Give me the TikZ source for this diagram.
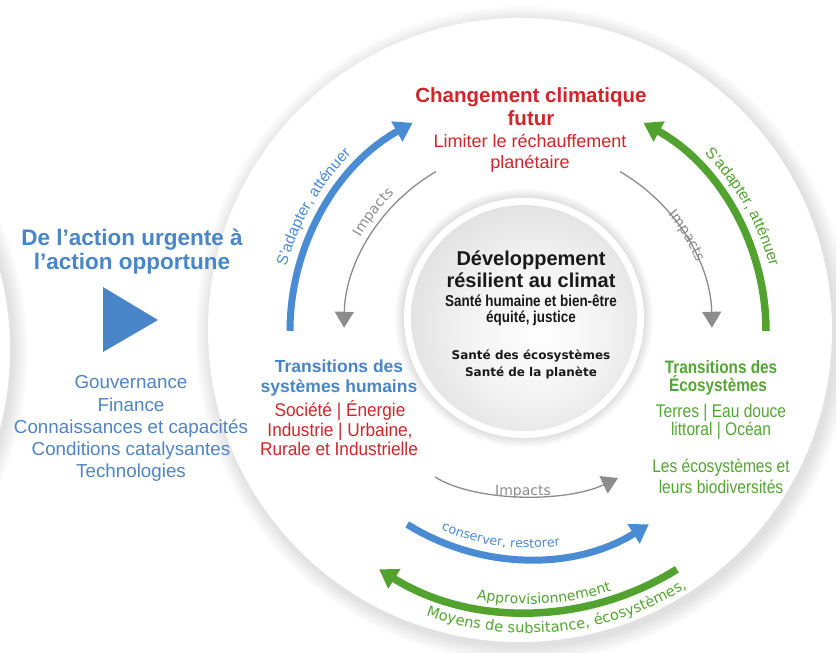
\documentclass[tikz,border=0pt]{standalone}
\usepackage{fontspec}
\setmainfont{Liberation Sans}
\newfontfamily\dejavu{DejaVu Sans}
\newfontfamily\narrowA[FakeStretch=0.93]{Liberation Sans}
\newfontfamily\narrowB[FakeStretch=0.85]{Liberation Sans}
\usetikzlibrary{arrows.meta,decorations.text}
\definecolor{cred}{RGB}{208,38,42}
\definecolor{cblue}{RGB}{72,134,201}
\definecolor{cbluel}{RGB}{80,132,196}
\definecolor{carcblue}{RGB}{74,140,212}
\definecolor{cgreen}{RGB}{84,166,52}
\definecolor{carcgreen}{RGB}{82,162,48}
\definecolor{cgray}{RGB}{140,140,140}
\definecolor{cdark}{RGB}{25,25,25}
\definecolor{diskedge}{RGB}{226,226,226}
\pgfdeclareradialshading{bigdisc}{\pgfpoint{0bp}{0bp}}{color(0bp)=(white); color(36bp)=(white); color(47bp)=(diskedge); color(50bp)=(diskedge)}
\pgfdeclareradialshading{innerdisc}{\pgfpoint{4bp}{-4bp}}{color(0bp)=(white); color(16bp)=(white!95!black); color(40bp)=(white!82!black); color(50bp)=(white!74!black)}
\begin{document}
\begin{tikzpicture}[x=1pt,y=-1pt,
  every node/.style={inner sep=0pt, anchor=base},
  ttl/.style={font=\bfseries\fontsize{20.5}{23}\selectfont, text=cred},
  subttl/.style={font=\fontsize{18}{21}\selectfont, text=cred},
  lefttitle/.style={font=\bfseries\fontsize{22.5}{25}\selectfont, text=cblue},
  leftlist/.style={font=\fontsize{18.8}{22}\selectfont, text=cbluel},
  humhead/.style={font=\bfseries\fontsize{17.5}{20}\selectfont, text=cblue},
  humtxt/.style={font=\narrowA\fontsize{18.5}{20}\selectfont, text=cred},
  ecohead/.style={font=\narrowB\bfseries\fontsize{18}{20}\selectfont, text=cgreen},
  ecotxt/.style={font=\narrowB\fontsize{18.3}{20}\selectfont, text=cgreen},
  cenhead/.style={font=\bfseries\fontsize{20}{22}\selectfont, text=cdark},
  censub/.style={font=\narrowB\bfseries\fontsize{15.8}{18}\selectfont, text=cdark},
  cenwide/.style={font=\dejavu\bfseries\fontsize{12}{14}\selectfont, text=cdark},
  thickblue/.style={draw=carcblue, line width=7pt, -{Triangle[length=18pt,width=22pt]}},
  thickgreen/.style={draw=carcgreen, line width=7.5pt, -{Triangle[length=18pt,width=22pt]}},
  thingray/.style={draw=cgray, line width=1.3pt, -{Triangle[length=16pt,width=19pt]}},
]
\useasboundingbox (0,0) rectangle (836,653);
\fill[white] (0,0) rectangle (836,653);

% left partial disc
\foreach \i in {1,...,10} \fill[black,opacity=0.012] (-298,352) circle ({310+1.6*\i});
\shade[shading=bigdisc] (-300,350) circle (310);

% big disc
\coordinate (D) at (520,330);
\foreach \i in {1,...,10} \fill[black,opacity=0.013] (523,334) circle ({312+1.6*\i});
\shade[shading=bigdisc] (D) circle (312);

% inner disc
\coordinate (I) at (524,318);
\foreach \i in {1,...,6} \fill[black,opacity=0.02] (I) circle ({120+1.5*\i});
\fill[white] (I) circle (120);
\shade[shading=innerdisc] (I) circle (113);

% centre of arcs
\coordinate (C) at (528,331);

% thick arcs
\draw[thickblue] ([shift={(C)}]180:238) arc[start angle=180, end angle=241, radius=238];
\draw[thickgreen] ([shift={(C)}]0:238) arc[start angle=0, end angle=-61, radius=238];
\draw[thickblue] ([shift={(C)}]122:228) arc[start angle=122, end angle=58, radius=228];
\draw[thickgreen] ([shift={(C)}]58:281) arc[start angle=58, end angle=122, radius=281];

% gray impact arcs
\draw[thingray] ([shift={(C)}]240:184) arc[start angle=240, end angle=181, radius=184];
\draw[thingray] ([shift={(C)}]-60:184) arc[start angle=-60, end angle=-1, radius=184];
\coordinate (g1) at (435,477);
\coordinate (g2) at (618,478);
\draw[thingray] (g1) .. controls (475,502) and (565,503) .. (g2);

% arc labels
\path[decorate, decoration={text along path, text align=center, text color=carcblue,
  text={|\fontsize{15.5}{16}\selectfont|S’adapter, atténuer}}]
  ([shift={(C)}]190:250) arc[start angle=190, end angle=230, radius=250];
\path[decorate, decoration={text along path, text align=center, text color=carcgreen,
  text={|\fontsize{15.5}{16}\selectfont|S’adapter, atténuer}}]
  ([shift={(C)}]-50:250) arc[start angle=-50, end angle=-10, radius=250];
\path[decorate, decoration={text along path, text align=center, text color=cgray,
  text={|\dejavu\fontsize{14}{16}\selectfont|Impacts}}]
  ([shift={(C)}]200:192) arc[start angle=200, end angle=235, radius=192];
\path[decorate, decoration={text along path, text align=center, text color=cgray,
  text={|\dejavu\fontsize{14}{16}\selectfont|Impacts}}]
  ([shift={(C)}]-48:182) arc[start angle=-48, end angle=-14, radius=182];
\node[font=\dejavu\fontsize{14}{16}\selectfont, text=cgray] (imp3) at (523,495) {Impacts};
\path[decorate, decoration={text along path, text align=center, text color=carcblue,
  text={|\dejavu\fontsize{12.7}{14}\selectfont|conserver, restorer}}]
  ([shift={(C)}]120:217) arc[start angle=120, end angle=75, radius=217];
\path[decorate, decoration={text along path, text align=center, text color=carcgreen,
  text={|\dejavu\fontsize{14}{16}\selectfont|Approvisionnement}}]
  ([shift={(C)}]110:273) arc[start angle=110, end angle=63, radius=273];
\path[decorate, decoration={text along path, text align=center, text color=cgreen,
  text={|\dejavu\fontsize{14.6}{16}\selectfont|Moyens de subsitance, écosystèmes,}}]
  ([shift={(C)}]118:302) arc[start angle=118, end angle=50, radius=302];

% title
\node[ttl] (t1) at (531,102) {Changement climatique};
\node[ttl] (t2) at (531,125) {futur};
\node[subttl] (t3) at (530,147) {Limiter le réchauffement};
\node[subttl] (t4) at (530,168) {planétaire};

% left block
\node[lefttitle] (l1) at (132,245) {De l’action urgente à};
\node[lefttitle] (l2) at (132,269) {l’action opportune};
\fill[cblue] (103,287) -- (103,352) -- (158,320) -- cycle;
\node[leftlist] (g1t) at (131,388) {Gouvernance};
\node[leftlist] (g2t) at (131,411) {Finance};
\node[leftlist] (g3t) at (131,433) {Connaissances et capacités};
\node[leftlist] (g4t) at (131,455) {Conditions catalysantes};
\node[leftlist] (g5t) at (131,477) {Technologies};

% human systems
\node[humhead] (h1) at (339,372) {Transitions des};
\node[humhead] (h2) at (339,392) {systèmes humains};
\node[humtxt] (h3) at (340,416) {Société | Énergie};
\node[humtxt] (h4) at (340,436) {Industrie | Urbaine,};
\node[humtxt] (h5) at (339,455) {Rurale et Industrielle};

% ecosystems
\node[ecohead] (e1) at (721,373) {Transitions des};
\node[ecohead] (e2) at (718,391) {Écosystèmes};
\node[ecotxt] (e3) at (721,417) {Terres | Eau douce};
\node[ecotxt] (e4) at (721,435) {littoral | Océan};
\node[ecotxt] (e5) at (721,472) {Les écosystèmes et};
\node[ecotxt] (e6) at (721,493) {leurs biodiversités};

% centre
\node[cenhead] (c1) at (531,265) {Développement};
\node[cenhead] (c2) at (531,287) {résilient au climat};
\node[censub] (c3) at (531,306) {Santé humaine et bien-être};
\node[censub] (c4) at (531,322) {équité, justice};
\node[cenwide] (c5) at (531,359) {Santé des écosystèmes};
\node[cenwide] (c6) at (531,376) {Santé de la planète};
\end{tikzpicture}
\end{document}
